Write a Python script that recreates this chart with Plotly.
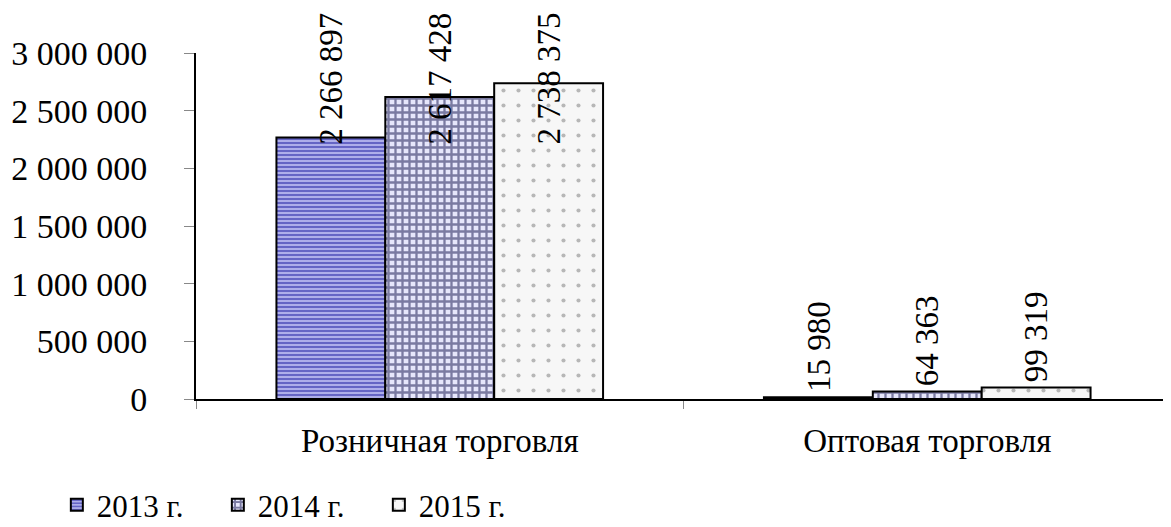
import plotly.graph_objects as go

categories = ["Розничная торговля", "Оптовая торговля"]
years = ["2013 г.", "2014 г.", "2015 г."]
values_2013 = [2266897, 15980]
values_2014 = [2617428, 64363]
values_2015 = [2738375, 99319]
y_ticks = [0, 500000, 1000000, 1500000, 2000000, 2500000, 3000000]

series = [values_2013, values_2014, values_2015]
patterns = [
    dict(shape="-", fgcolor="#1c1ca0", bgcolor="#aeaeea", size=4, solidity=0.5),
    dict(shape="+", fgcolor="#0e0e48", bgcolor="#e6e6fb", size=7, solidity=0.55),
    dict(shape=".", fgcolor="#777777", bgcolor="#f7f7f7", size=15, solidity=0.06),
]
FONT = "Liberation Serif, Times New Roman, serif"

def fmt(v):
    return f"{v:,}".replace(",", " ")

fig = go.Figure()
for name, vals, pat in zip(years, series, patterns):
    fig.add_trace(go.Bar(
        x=categories, y=vals, name=name,
        marker=dict(color=pat["bgcolor"], pattern=pat,
                    line=dict(color="black", width=2)),
        cliponaxis=False,
    ))

# data labels (rotated), clamped near top like the original
GROUP = 0.67
bw = GROUP / 3
LABEL_CAP = 2160000
annotations = []
for i, vals in enumerate(series):
    for j, v in enumerate(vals):
        annotations.append(dict(
            x=j + (i - 1) * bw, y=min(v, LABEL_CAP), xref="x", yref="y",
            text=fmt(v), textangle=-90, showarrow=False,
            xanchor="center", yanchor="bottom", yshift=3,
            font=dict(family=FONT, size=33, color="black"),
        ))

fig.update_layout(
    width=1163, height=519,
    margin=dict(l=188, r=0, t=45, b=128),
    plot_bgcolor="white", paper_bgcolor="white",
    barmode="group", bargap=0.33, bargroupgap=0,
    separators=". ",
    annotations=annotations,
    font=dict(family=FONT, color="black"),
    legend=dict(
        orientation="h", xref="container", yref="container",
        x=0.042, y=0.042, xanchor="left", yanchor="middle",
        font=dict(family=FONT, size=31, color="black"),
        entrywidth=116, entrywidthmode="pixels",
        itemsizing="constant",
    ),
    showlegend=True,
)
fig.update_xaxes(
    type="category", range=[-0.5, 1.5],
    showline=True, linecolor="black", linewidth=1.5,
    ticks="outside", tickson="boundaries", ticklen=8, tickcolor="#888888",
    tickfont=dict(family=FONT, size=33, color="black"),
    showgrid=False, zeroline=False, ticklabelstandoff=12,
)
fig.update_yaxes(
    range=[0, 3000000], tickvals=y_ticks, tickformat=",d",
    showline=True, linecolor="black", linewidth=2,
    ticks="outside", ticklen=10, tickcolor="#888888",
    tickfont=dict(family=FONT, size=34, color="black"),
    showgrid=False, zeroline=False, ticklabelstandoff=30,
)

fig.write_html("out.html")
